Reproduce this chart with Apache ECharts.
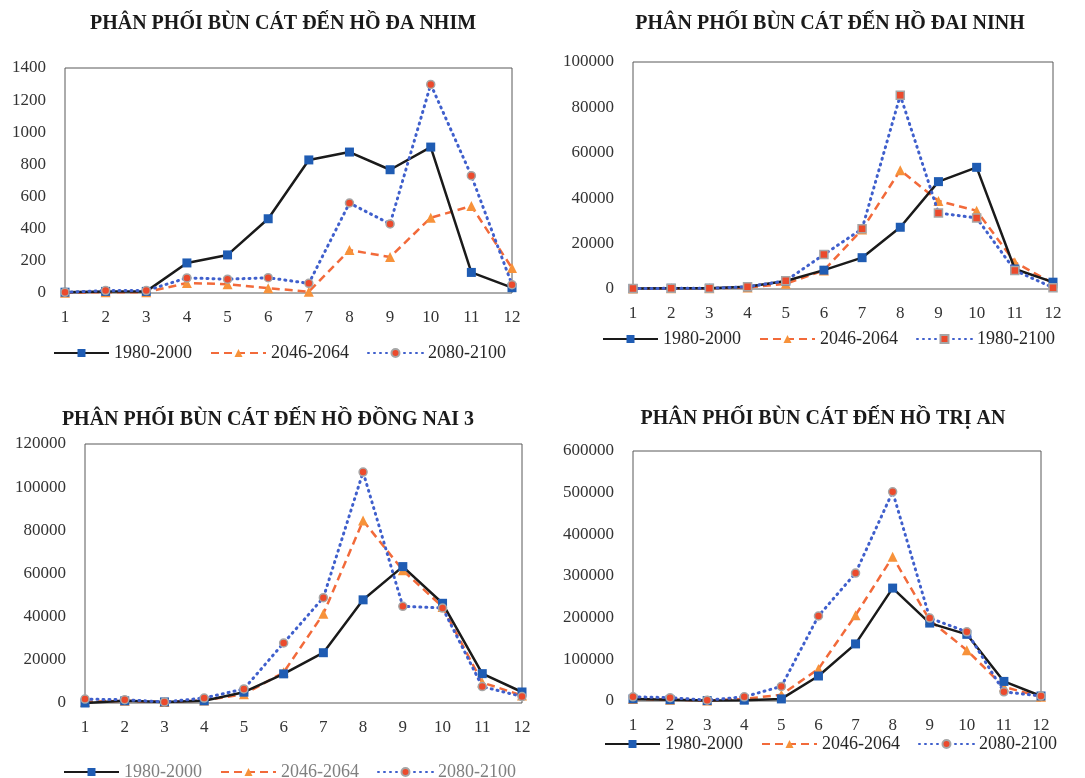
<!DOCTYPE html>
<html>
<head>
<meta charset="utf-8">
<script src="https://cdn.jsdelivr.net/npm/echarts@6/dist/echarts.min.js"></script>
<style>
html,body{margin:0;padding:0;background:#fff;}
#c{width:1085px;height:778px;}
</style>
</head>
<body>
<div id="c"></div>
<script>
// ---------- DATA ----------
const months = ['1','2','3','4','5','6','7','8','9','10','11','12'];

const titles = [
  'PHÂN PHỐI BÙN CÁT ĐẾN HỒ ĐA NHIM',
  'PHÂN PHỐI BÙN CÁT ĐẾN HỒ ĐAI NINH',
  'PHÂN PHỐI BÙN CÁT ĐẾN HỒ ĐỒNG NAI 3',
  'PHÂN PHỐI BÙN CÁT ĐẾN HỒ TRỊ AN'
];

const daNhim_1980_2000 = [5, 10, 10, 187, 237, 462, 828, 877, 767, 908, 128, 33];
const daNhim_2046_2064 = [2, 5, 5, 62, 55, 30, 8, 267, 224, 468, 541, 155];
const daNhim_2080_2100 = [5, 15, 15, 94, 86, 95, 60, 560, 430, 1298, 730, 52];

const daiNinh_1980_2000 = [200, 300, 300, 1000, 3500, 8300, 13800, 27200, 47300, 53600, 8800, 3000];
const daiNinh_2046_2064 = [200, 300, 300, 700, 2300, 8200, 26200, 52300, 38800, 34500, 11800, 2500];
const daiNinh_1980_2100 = [200, 300, 300, 1000, 3600, 15200, 26500, 85300, 33500, 31300, 8200, 600];

const dongNai3_1980_2000 = [0, 1000, 500, 1000, 5000, 13500, 23300, 47800, 63200, 46200, 13600, 5100];
const dongNai3_2046_2064 = [500, 1000, 500, 1200, 4000, 14200, 41300, 84500, 61500, 44500, 9500, 3500];
const dongNai3_2080_2100 = [1800, 1500, 500, 2300, 6500, 27800, 48800, 107000, 44800, 44000, 7600, 3000];

const triAn_1980_2000 = [5000, 3000, 1000, 2000, 5000, 60000, 137000, 271000, 187000, 160000, 47000, 12000];
const triAn_2046_2064 = [5000, 3000, 1000, 5000, 15000, 77000, 206000, 346000, 194000, 122000, 34000, 10000];
const triAn_2080_2100 = [10000, 8000, 2000, 10000, 35000, 204000, 307000, 502000, 199000, 166000, 22000, 12000];

const yMax = [1400, 100000, 120000, 600000];
const yInterval = [200, 20000, 20000, 100000];

// ---------- STYLE ----------
const FONT = 'Liberation Serif';
const solidLine = {color:'#1a1a1a', width:2.5, type:'solid'};
const dashLine = {color:'#f26a3a', width:2.5, type:[8,5]};
const dotLine  = {color:'#3f5fcc', width:3, type:[1,5], cap:'round'};

const grids = [
  {left:65, top:68, width:447, height:225},
  {left:633, top:62, width:420, height:227},
  {left:85, top:444, width:437, height:259},
  {left:633, top:451, width:408, height:250}
];
const titlePos = [[278,9],[825,9],[263,405],[818,404]];
const legendPos = [[48,339],[597,325],[58,758],[599,730]];
const legendColor = ['#262626','#262626','#7f7f7f','#262626'];
const legendNames = [
  ['1980-2000','2046-2064','2080-2100'],
  ['1980-2000','2046-2064','1980-2100'],
  ['1980-2000','2046-2064','2080-2100'],
  ['1980-2000','2046-2064','2080-2100']
];
const allData = [
  [daNhim_1980_2000, daNhim_2046_2064, daNhim_2080_2100],
  [daiNinh_1980_2000, daiNinh_2046_2064, daiNinh_1980_2100],
  [dongNai3_1980_2000, dongNai3_2046_2064, dongNai3_2080_2100],
  [triAn_1980_2000, triAn_2046_2064, triAn_2080_2100]
];

const option = {
  backgroundColor:'#ffffff',
  animation:false,
  title:[], legend:[], grid:[], xAxis:[], yAxis:[], series:[]
};

for (let i=0;i<4;i++){
  option.title.push({
    text: titles[i], left: titlePos[i][0], top: titlePos[i][1], textAlign:'center',
    textStyle:{fontFamily:FONT, fontWeight:'bold', fontSize:20, color:'#1a1a1a'}
  });
  option.grid.push(Object.assign({show:true, borderColor:'#595959', borderWidth:1, backgroundColor:'transparent', containLabel:false}, grids[i]));
  option.xAxis.push({
    type:'category', gridIndex:i, data:months, boundaryGap:false,
    axisLine:{show:false}, axisTick:{show:false}, splitLine:{show:false},
    axisLabel:{fontFamily:FONT, fontSize:17, color:'#333', margin:16, interval:0}
  });
  option.yAxis.push({
    type:'value', gridIndex:i, min:0, max:yMax[i], interval:yInterval[i],
    axisLine:{show:false}, axisTick:{show:false}, splitLine:{show:false},
    axisLabel:{fontFamily:FONT, fontSize:17, color:'#333', margin:19, formatter:function(v){return String(v);}}
  });
  option.legend.push({
    left: legendPos[i][0], top: legendPos[i][1], orient:'horizontal',
    itemWidth:55, itemHeight:10, itemGap:18,
    data: legendNames[i],
    textStyle:{fontFamily:FONT, fontSize:18, color:legendColor[i]},
    selectedMode:false
  });
  const d = allData[i];
  option.series.push({
    name:legendNames[i][0], type:'line', xAxisIndex:i, yAxisIndex:i, data:d[0],
    lineStyle:solidLine, symbol:'rect', symbolSize:9,
    itemStyle:{color:'#1f5cb3', borderWidth:0}, z:3
  });
  option.series.push({
    name:legendNames[i][1], type:'line', xAxisIndex:i, yAxisIndex:i, data:d[1],
    lineStyle:dashLine, symbol:'triangle', symbolSize:10,
    itemStyle:{color:'#f7923a', borderWidth:0}, z:2
  });
  option.series.push({
    name:legendNames[i][2], type:'line', xAxisIndex:i, yAxisIndex:i, data:d[2],
    lineStyle:dotLine, symbol: i===1 ? 'rect' : 'circle', symbolSize: 8,
    itemStyle:{color:'#ec4a2c', borderColor:'#a6a6a6', borderWidth:1.5}, z:4
  });
}

const chart = echarts.init(document.getElementById('c'), null, {renderer:'canvas'});
chart.setOption(option);
</script>
</body>
</html>
